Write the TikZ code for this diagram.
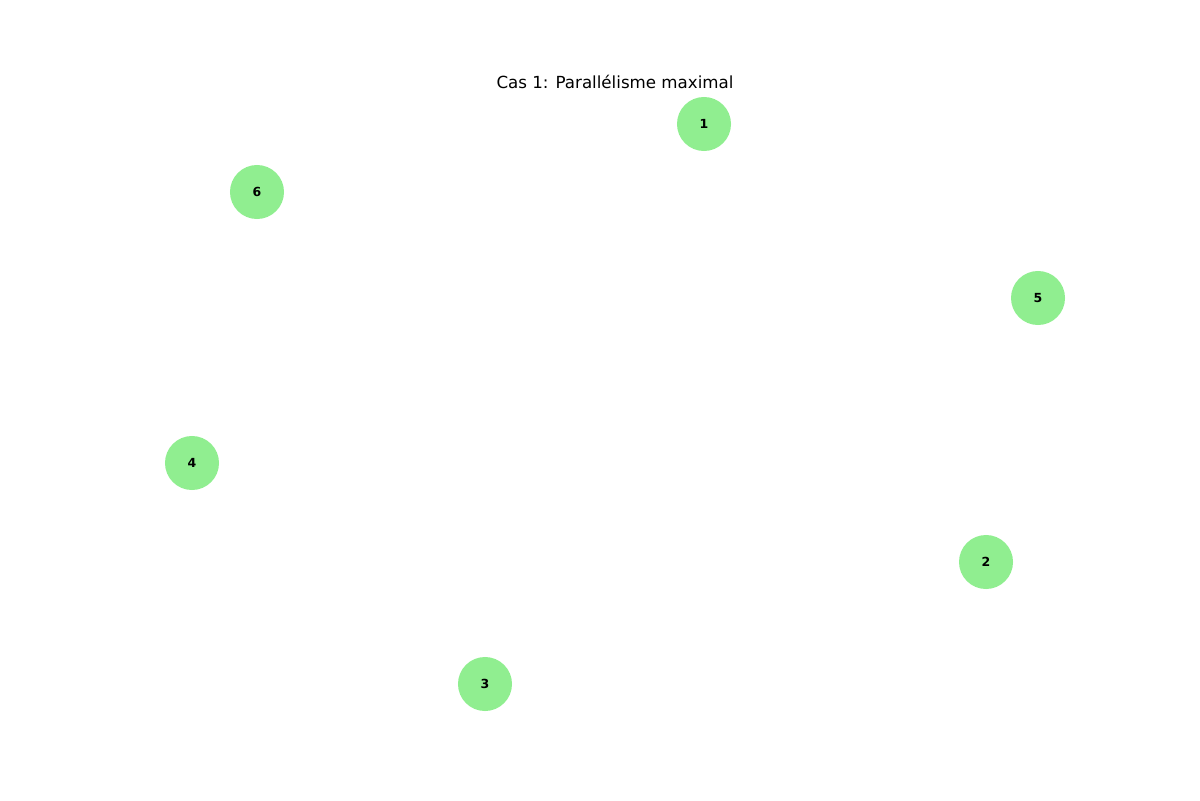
\documentclass[tikz,border=0pt]{standalone}
\usepackage{fontspec}
\setmainfont{DejaVu Sans}
\definecolor{lightgreen}{HTML}{90EE90}
\begin{document}
\begin{tikzpicture}[x=0.72pt,y=-0.72pt,
  vertex/.style={circle,fill=lightgreen,draw=none,minimum size=38.9pt,inner sep=0pt,font=\fontsize{9}{10}\selectfont\bfseries}]
\useasboundingbox (0,0) rectangle (1200,800);
\node[font=\fontsize{12}{14}\selectfont] (title) at (615,82) {Cas 1: Parallélisme maximal};
\node[vertex] (n1) at (704,124) {1};
\node[vertex] (n6) at (257,192) {6};
\node[vertex] (n5) at (1038,298) {5};
\node[vertex] (n4) at (192,463) {4};
\node[vertex] (n2) at (986,562) {2};
\node[vertex] (n3) at (485,684) {3};
\end{tikzpicture}
\end{document}
